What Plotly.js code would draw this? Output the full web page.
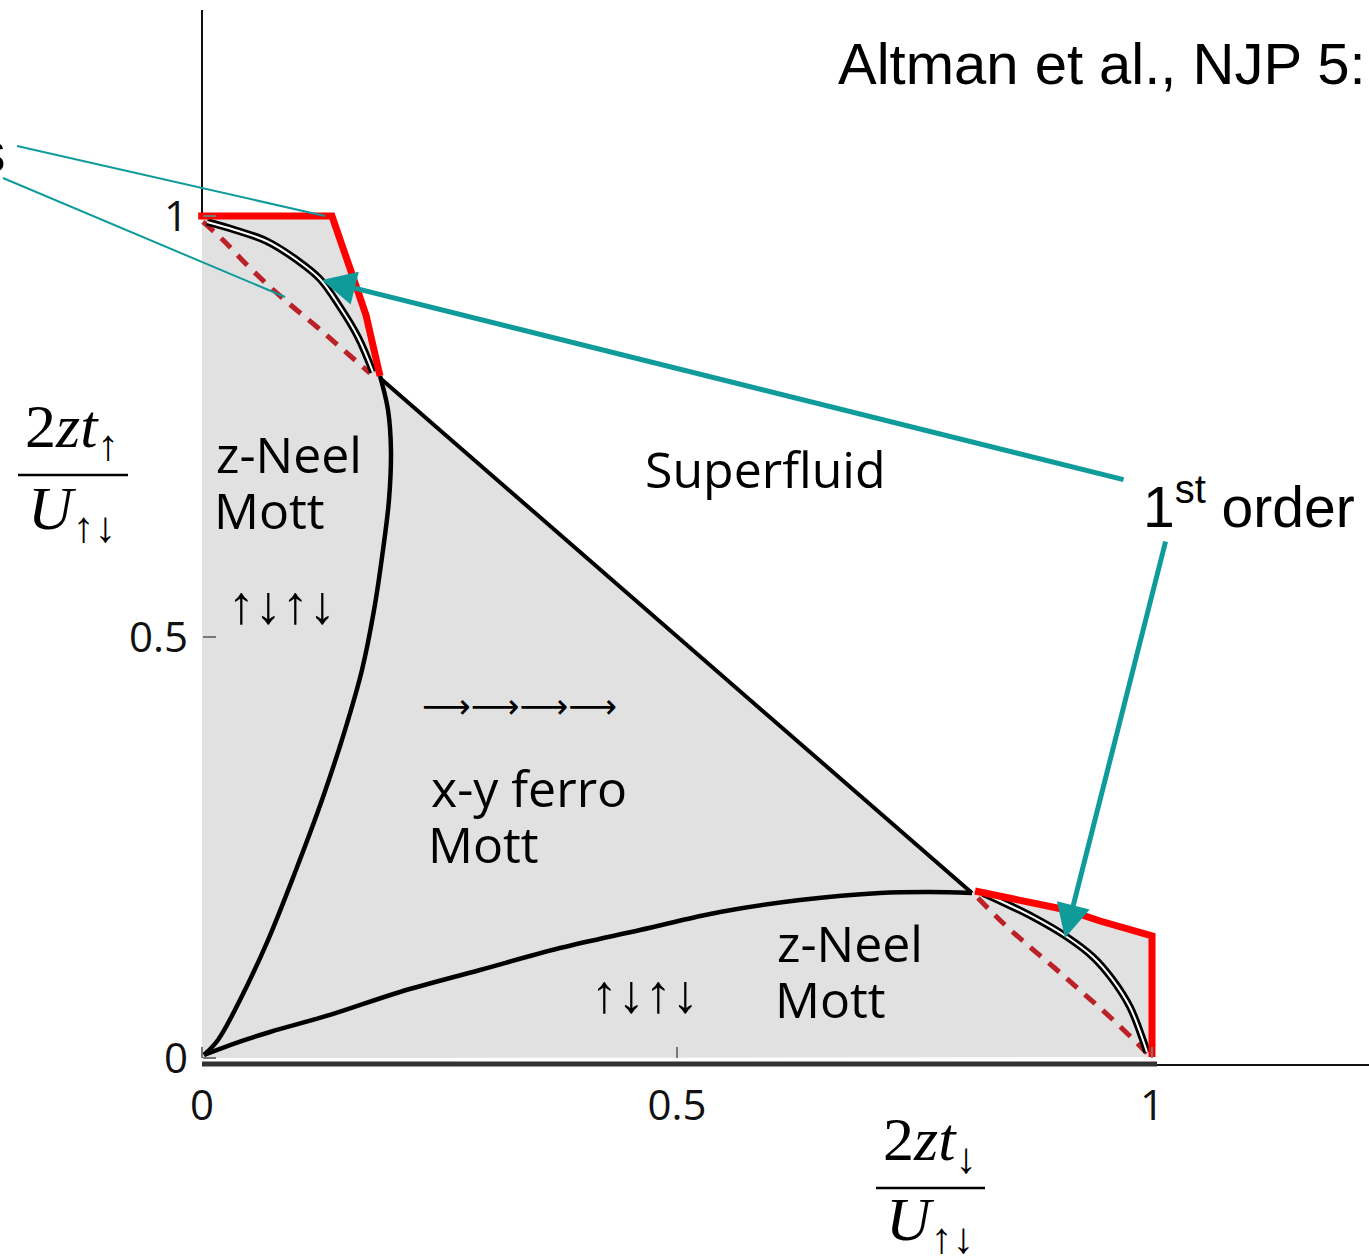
<!DOCTYPE html>
<html>
<head>
<meta charset="utf-8">
<script src="https://cdn.plot.ly/plotly-3.0.1.min.js"></script>
<style>html,body{margin:0;padding:0;background:#fff;}#chart{width:1369px;height:1260px;}</style>
</head>
<body>
<div id="chart"></div>
<script>
// ---- data (in axis units: x = 2zt_down/U, y = 2zt_up/U) ----
const tickVals = [0, 0.5, 1];
const tickText = ['0', '0.5', '1'];

// red first-order boundary, upper left
const redTopX = [-0.004, 0.1368, 0.1589, 0.1726, 0.1874];
const redTopY = [1.000, 1.000, 0.9276, 0.8824, 0.8100];
// double black line, upper left
const dblTopX = [0.0053, 0.0347, 0.0684, 0.1000, 0.1242, 0.1453, 0.1642, 0.1800];
const dblTopY = [0.9929, 0.9834, 0.9700, 0.9477, 0.9252, 0.8919, 0.8563, 0.8147];
// dashed dark-red line, upper left
const dashTopX = [0.0011, 0.0221, 0.0474, 0.0716, 0.0958, 0.1211, 0.1453, 0.1768];
const dashTopY = [0.9929, 0.9715, 0.9418, 0.9157, 0.8919, 0.8682, 0.8444, 0.8135];
// superfluid boundary (straight)
const sfX = [0.1874, 0.8105];
const sfY = [0.8076, 0.1960];
// z-Neel / x-y ferro boundary (left)
const leftX = [0.1874, 0.1958, 0.1989, 0.1968, 0.1905, 0.1811, 0.1684, 0.1505, 0.1263, 0.0989, 0.0695, 0.0400, 0.0168, 0.0021];
const leftY = [0.8100, 0.7696, 0.7221, 0.6627, 0.6033, 0.5321, 0.4608, 0.3895, 0.3064, 0.2233, 0.1401, 0.0689, 0.0214, 0.0036];
// z-Neel / x-y ferro boundary (bottom)
const botX = [0.0021, 0.0295, 0.0716, 0.1347, 0.2084, 0.2926, 0.3768, 0.4611, 0.5453, 0.6295, 0.7137, 0.7663, 0.8105];
const botY = [0.0036, 0.0154, 0.0309, 0.0511, 0.0784, 0.1045, 0.1306, 0.1520, 0.1734, 0.1876, 0.1960, 0.1971, 0.1960];
// red first-order boundary, lower right
const redBotX = [0.8137, 0.8579, 0.9105, 0.9453, 0.9958, 1.000, 1.000];
const redBotY = [0.1983, 0.1888, 0.1758, 0.1627, 0.1449, 0.1449, 0.0012];
// double black line, lower right
const dblBotX = [0.8221, 0.8747, 0.9105, 0.9379, 0.9589, 0.9768, 0.9905, 0.9947];
const dblBotY = [0.1960, 0.1675, 0.1437, 0.1200, 0.0926, 0.0606, 0.0214, 0.0071];
// dashed dark-red line, lower right
const dashBotX = [0.8168, 0.8432, 0.8716, 0.9000, 0.9274, 0.9558, 0.9842, 0.9947];
const dashBotY = [0.1900, 0.1603, 0.1318, 0.1045, 0.0772, 0.0487, 0.0178, 0.0059];

// pointer lines (thin, from the cut-off label at left)
const ptr1X = [-0.1947, 0.1295], ptr1Y = [1.0831, 1.000];
const ptr2X = [-0.2095, 0.0874], ptr2Y = [1.0451, 0.9038];
// "1st order" arrows: [tailX, tailY, headX, headY]
const arrowUpper = [0.9716, 0.6865, 0.1263, 0.9240];
const arrowLower = [1.0147, 0.6152, 0.9084, 0.1425];

// ---- pixel <-> axis mapping for the layout ----
const X0PX = 202, XSCALE = 950, Y0PX = 1058, YSCALE = 842, W = 1369, H = 1260;
const dx = p => (p - X0PX) / XSCALE;
const dy = p => (Y0PX - p) / YSCALE;
const xRange = [dx(0), dx(W)];
const yRange = [dy(H), dy(0)];

const RED = '#ff0000', DRED = '#bb2127', TEAL = '#109b9b', GREY = '#e1e1e1';

// grey region polygon built from the boundaries
const greyX = [0, 0].concat(redTopX.slice(1), sfX.slice(1), redBotX, [0]);
const greyY = [0, 1].concat(redTopY.slice(1), sfY.slice(1), redBotY, [0]);

function line(x, y, color, width, dash) {
  return {x: x, y: y, mode: 'lines', type: 'scatter', hoverinfo: 'skip',
          line: {color: color, width: width, dash: dash || 'solid', shape: 'spline', smoothing: 1}};
}
function straight(x, y, color, width) {
  return {x: x, y: y, mode: 'lines', type: 'scatter', hoverinfo: 'skip',
          line: {color: color, width: width}};
}

const traces = [
  {x: greyX, y: greyY, mode: 'lines', fill: 'toself', fillcolor: GREY, line: {width: 0}, hoverinfo: 'skip', type: 'scatter'},
  straight([0, 0], [1, dy(10)], '#111', 2),
  straight([0, dx(1157)], [dy(1064), dy(1064)], '#333', 5),
  straight([dx(1157), dx(W)], [dy(1065), dy(1065)], '#111', 2),
  line(leftX, leftY, '#000', 4.5),
  line(botX, botY, '#000', 4.5),
  straight(sfX, sfY, '#000', 4),
  line(dashTopX, dashTopY, DRED, 5, '14px,10px'),
  line(dashBotX, dashBotY, DRED, 5, '14px,10px'),
  line(dblTopX, dblTopY, '#000', 7.5),
  line(dblTopX, dblTopY, '#fff', 2),
  line(dblBotX, dblBotY, '#000', 7.5),
  line(dblBotX, dblBotY, '#fff', 2),
  straight(redTopX, redTopY, RED, 7),
  straight(redBotX, redBotY, RED, 7),
  straight(ptr1X, ptr1Y, TEAL, 2),
  straight(ptr2X, ptr2Y, TEAL, 2)
];

const SANS = 'Open Sans, sans-serif';
const ARIAL = 'Liberation Sans, Arial, sans-serif';
const SERIF = 'Liberation Serif, serif';
function txt(px, py, text, size, family, anchor) {
  return {x: dx(px), y: dy(py), xref: 'x', yref: 'y', text: text, showarrow: false,
          xanchor: anchor || 'left', yanchor: 'middle',
          font: {family: family, size: size, color: '#000'}};
}
function arrow(a) {
  return {x: a[2], y: a[3], ax: a[0], ay: a[1], xref: 'x', yref: 'y', axref: 'x', ayref: 'y',
          text: '', showarrow: true, arrowhead: 2, arrowsize: 1.35, arrowwidth: 5,
          arrowcolor: TEAL, standoff: 0, startstandoff: 0};
}

const annotations = [
  txt(836, 63, 'Altman et al., NJP 5:', 58, ARIAL),
  txt(8, 152, 's', 57, ARIAL, 'right'),
  txt(1141, 503, '1<sup>st</sup> order', 57, ARIAL),
  txt(643, 469, 'Superfluid', 50, SANS),
  txt(214, 454, 'z-Neel', 50, SANS),
  txt(212, 510, 'Mott', 50, SANS),
  txt(226, 604, '↑↓↑↓', 54, ARIAL),
  txt(420, 706, '⟶⟶⟶⟶', 34, 'DejaVu Sans'),
  txt(429, 788, 'x-y ferro', 50, SANS),
  txt(426, 844, 'Mott', 50, SANS),
  txt(775, 943, 'z-Neel', 50, SANS),
  txt(773, 999, 'Mott', 50, SANS),
  txt(589, 993, '↑↓↑↓', 54, ARIAL),
  txt(72, 430, '2<i>zt</i><sub>↑</sub>', 62, SERIF, 'center'),
  txt(72, 512, '<i>U</i><sub>↑↓</sub>', 62, SERIF, 'center'),
  txt(930, 1143, '2<i>zt</i><sub>↓</sub>', 62, SERIF, 'center'),
  txt(930, 1223, '<i>U</i><sub>↑↓</sub>', 62, SERIF, 'center'),
  arrow(arrowUpper),
  arrow(arrowLower)
];

const shapes = [
  {type: 'line', xref: 'x', yref: 'y', x0: dx(18), x1: dx(128), y0: dy(475), y1: dy(475), line: {color: '#000', width: 2.5}},
  {type: 'line', xref: 'x', yref: 'y', x0: dx(876), x1: dx(985), y0: dy(1188), y1: dy(1188), line: {color: '#000', width: 2.5}}
];

const layout = {
  width: W, height: H,
  margin: {l: 0, r: 0, t: 0, b: 0, pad: 0},
  paper_bgcolor: '#fff', plot_bgcolor: '#fff',
  showlegend: false,
  xaxis: {range: xRange, showgrid: false, zeroline: false, showline: false,
          tickvals: tickVals, ticktext: tickText, ticks: 'inside', ticklen: 11, tickwidth: 1.5, tickcolor: '#777',
          anchor: 'free', position: (0 - yRange[0]) / (yRange[1] - yRange[0]),
          ticklabelstandoff: 19, tickfont: {family: SANS, size: 42, color: '#111'}},
  yaxis: {range: yRange, showgrid: false, zeroline: false, showline: false,
          tickvals: tickVals, ticktext: tickText, ticks: 'inside', ticklen: 13, tickwidth: 1.5, tickcolor: '#777',
          anchor: 'free', position: (0 - xRange[0]) / (xRange[1] - xRange[0]),
          ticklabelstandoff: 14, tickfont: {family: SANS, size: 42, color: '#111'}},
  annotations: annotations,
  shapes: shapes
};

Plotly.newPlot('chart', traces, layout, {displayModeBar: false, staticPlot: true});
</script>
</body>
</html>
